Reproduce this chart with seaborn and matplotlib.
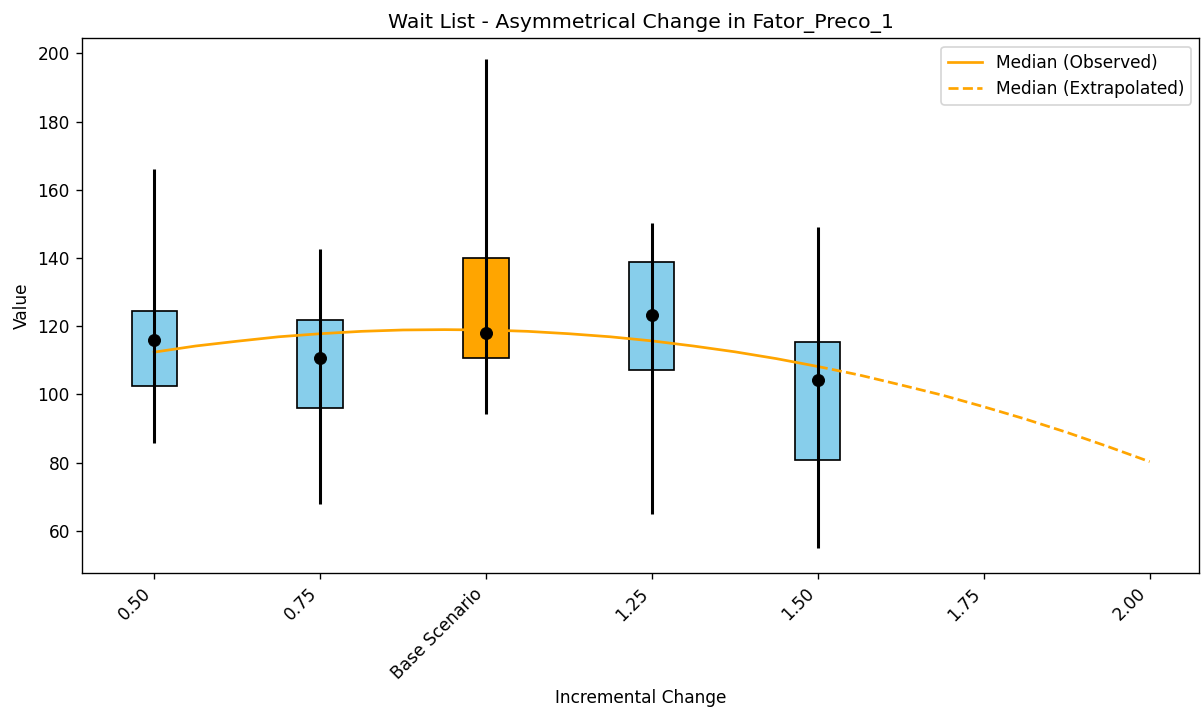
import numpy as np
import pandas as pd
import seaborn as sns
import matplotlib.pyplot as plt

# Werte
factors = [0.50, 0.75, 1.00, 1.25, 1.50]
q1 = [102.5, 96.0, 110.7, 107.1, 80.8]
q3 = [124.4, 121.8, 140.0, 138.8, 115.4]
whisk_low = [85.8, 67.9, 94.3, 65.0, 55.0]
whisk_high = [166.0, 142.6, 198.2, 150.2, 149.0]
medians = [115.9, 110.7, 118.0, 123.3, 104.2]
box_colors = ["skyblue", "skyblue", "orange", "skyblue", "skyblue"]

obs_x = [0.5, 0.5625, 0.625, 0.6875, 0.75, 0.8125, 0.875, 0.9375, 1.0,
         1.0625, 1.125, 1.1875, 1.25, 1.3125, 1.375, 1.4375, 1.5]
obs_y = [112.4, 114.2, 115.6, 116.9, 117.8, 118.5, 118.9, 119.0, 118.9,
         118.5, 117.8, 116.9, 115.7, 114.2, 112.5, 110.5, 108.2]
ext_x = [1.5, 1.5625, 1.625, 1.6875, 1.75, 1.8125, 1.875, 1.9375, 2.0]
ext_y = [108.2, 105.7, 102.8, 99.8, 96.4, 92.8, 88.9, 84.7, 80.3]

tick_pos = [0.50, 0.75, 1.00, 1.25, 1.50, 1.75, 2.00]
tick_labels = ["0.50", "0.75", "Base Scenario", "1.25", "1.50", "1.75", "2.00"]

fig, ax = plt.subplots(figsize=(1203 / 122, 709 / 122), dpi=122)

# Boxen (Q1-Q3)
heights = [h - l for h, l in zip(q3, q1)]
ax.bar(factors, heights, bottom=q1, width=0.068, color=box_colors,
       edgecolor="black", linewidth=1, zorder=2)

# Medianlinie
obs = pd.DataFrame({"x": obs_x, "y": obs_y})
ext = pd.DataFrame({"x": ext_x, "y": ext_y})
sns.lineplot(data=obs, x="x", y="y", color="orange", linewidth=1.6,
             label="Median (Observed)", ax=ax, zorder=3)
sns.lineplot(data=ext, x="x", y="y", color="orange", linewidth=1.6,
             linestyle="--", label="Median (Extrapolated)", ax=ax, zorder=3)

# Whisker
ax.vlines(factors, whisk_low, whisk_high, color="black", linewidth=1.8, zorder=4)

# Punkte
pts = pd.DataFrame({"x": factors, "y": medians})
sns.scatterplot(data=pts, x="x", y="y", color="black", s=50, edgecolor="black",
                ax=ax, zorder=5, legend=False)

ax.set_xlim(0.391, 2.075)
ax.set_ylim(47.7, 204.4)
ax.set_xticks(tick_pos)
ax.set_xticklabels(tick_labels, rotation=45, ha="right")
ax.set_yticks([60, 80, 100, 120, 140, 160, 180, 200])

ax.set_title("Wait List - Asymmetrical Change in Fator_Preco_1")
ax.set_xlabel("Incremental Change")
ax.set_ylabel("Value")
ax.legend(loc="upper right")

plt.subplots_adjust(left=0.068, right=0.997, top=0.946, bottom=0.192)
plt.savefig("out.png", dpi=122)
